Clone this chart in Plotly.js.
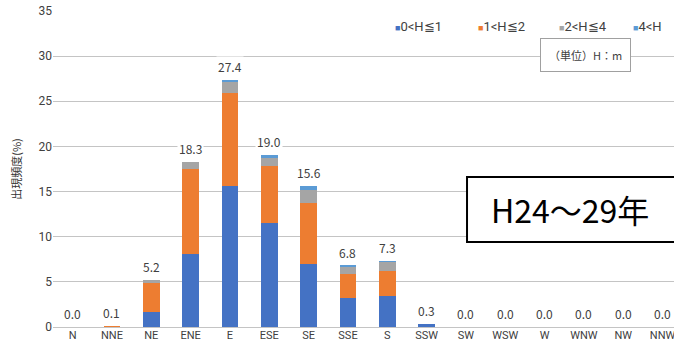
<!DOCTYPE html>
<html>
<head>
<meta charset="utf-8">
<script src="https://cdn.plot.ly/plotly-3.0.1.min.js"></script>
<style>
  html, body { margin: 0; padding: 0; background: #fff; overflow: hidden; }
  #chart { width: 674px; height: 355px; }
</style>
</head>
<body>
<div id="chart"></div>
<script>
// Wave direction categories (16 points of the compass)
const directions = ["N", "NNE", "NE", "ENE", "E", "ESE", "SE", "SSE", "S", "SSW", "SW", "WSW", "W", "WNW", "NW", "NNW"];

// Occurrence frequency (%) per wave-height class
const h0to1 = [0.0, 0.04, 1.7, 8.1, 15.6, 11.5, 7.0, 3.2, 3.4, 0.3, 0.0, 0.0, 0.0, 0.0, 0.0, 0.0];
const h1to2 = [0.0, 0.06, 3.2, 9.4, 10.3, 6.3, 6.7, 2.7, 2.8, 0.0, 0.0, 0.0, 0.0, 0.0, 0.0, 0.0];
const h2to4 = [0.0, 0.0, 0.3, 0.8, 1.3, 1.0, 1.5, 0.8, 1.0, 0.0, 0.0, 0.0, 0.0, 0.0, 0.0, 0.0];
const hOver4 = [0.0, 0.0, 0.0, 0.0, 0.2, 0.2, 0.4, 0.1, 0.1, 0.0, 0.0, 0.0, 0.0, 0.0, 0.0, 0.0];

// Totals printed above each bar
const totals = [0.0, 0.1, 5.2, 18.3, 27.4, 19.0, 15.6, 6.8, 7.3, 0.3, 0.0, 0.0, 0.0, 0.0, 0.0, 0.0];

const seriesNames = ["0<H≦1", "1<H≦2", "2<H≦4", "4<H"];
const seriesColors = ["#4472C4", "#ED7D31", "#A5A5A5", "#5B9BD5"];
const seriesValues = [h0to1, h1to2, h2to4, hOver4];

const yTicks = [0, 5, 10, 15, 20, 25, 30, 35];

const narrowFont = "Liberation Sans Narrow, Arial Narrow, Roboto, sans-serif";

const traces = seriesValues.map((vals, i) => ({
  type: "bar",
  name: seriesNames[i],
  x: directions,
  y: vals,
  marker: { color: seriesColors[i], line: { width: 0 } },
  showlegend: false,
  hoverinfo: "x+y+name"
}));

const labelFont = { family: "Noto Sans CJK JP, sans-serif", size: 12, color: "#404040" };

const totalLabels = directions.map((d, i) => ({
  x: d, y: totals[i], xref: "x", yref: "y",
  text: totals[i].toFixed(1),
  showarrow: false,
  yanchor: "bottom", yshift: 3,
  bgcolor: "#ffffff",
  borderpad: 1,
  font: labelFont
}));

// Compact legend: small coloured square followed by the class name
const legendX = [0.547, 0.681, 0.811, 0.930];
const legendItems = seriesNames.map((name, i) => ({
  xref: "paper", yref: "paper",
  x: legendX[i], y: 0.951, xanchor: "left", yanchor: "middle",
  showarrow: false,
  text: '<span style="color:' + seriesColors[i] + ';font-size:9px">■</span>' + name,
  font: { family: narrowFont, size: 13, color: "#404040" }
}));

const layout = {
  width: 674, height: 355,
  margin: { l: 53, r: 0, t: 11, b: 28, autoexpand: false },
  paper_bgcolor: "#ffffff",
  plot_bgcolor: "#ffffff",
  barmode: "stack",
  bargap: 0.58,
  showlegend: false,
  xaxis: {
    type: "category",
    range: [-0.5, 15.29],
    showgrid: false,
    zeroline: false,
    showline: false,
    ticks: "",
    tickfont: { family: narrowFont, size: 11, color: "#404040" },
    fixedrange: true
  },
  yaxis: {
    range: [0, 35],
    tickvals: yTicks,
    showgrid: true,
    gridcolor: "#c4c4c4",
    gridwidth: 1,
    zeroline: true,
    zerolinecolor: "#c4c4c4",
    showline: false,
    ticks: "",
    ticklen: 0,
    tickfont: { family: narrowFont, size: 12, color: "#404040" },
    title: {
      text: "出現頻度(%)",
      standoff: 14,
      font: { family: "Noto Sans CJK JP, sans-serif", size: 11, color: "#333333" }
    },
    fixedrange: true
  },
  // Period box: runs off the right edge of the figure
  shapes: [
    {
      type: "rect", xref: "paper", yref: "paper",
      x0: 0.6667, x1: 1.1, y0: 0.269, y1: 0.475,
      fillcolor: "#ffffff",
      line: { color: "#000000", width: 2 },
      layer: "above"
    }
  ],
  annotations: totalLabels.concat(legendItems, [
    {
      xref: "paper", yref: "paper",
      x: 0.857, y: 0.861, xanchor: "center", yanchor: "middle",
      text: "（単位）H：m",
      showarrow: false,
      font: { family: "Noto Sans CJK JP, sans-serif", size: 11, color: "#404040" },
      bgcolor: "#ffffff",
      bordercolor: "#a0a0a0",
      borderwidth: 1,
      borderpad: 8
    },
    {
      xref: "paper", yref: "paper",
      x: 0.702, y: 0.372, xanchor: "left", yanchor: "middle",
      text: "H24～29年",
      showarrow: false,
      font: { family: "Noto Sans CJK JP, sans-serif", size: 32, color: "#000000" }
    }
  ])
};

Plotly.newPlot("chart", traces, layout, { displayModeBar: false });
</script>
</body>
</html>
